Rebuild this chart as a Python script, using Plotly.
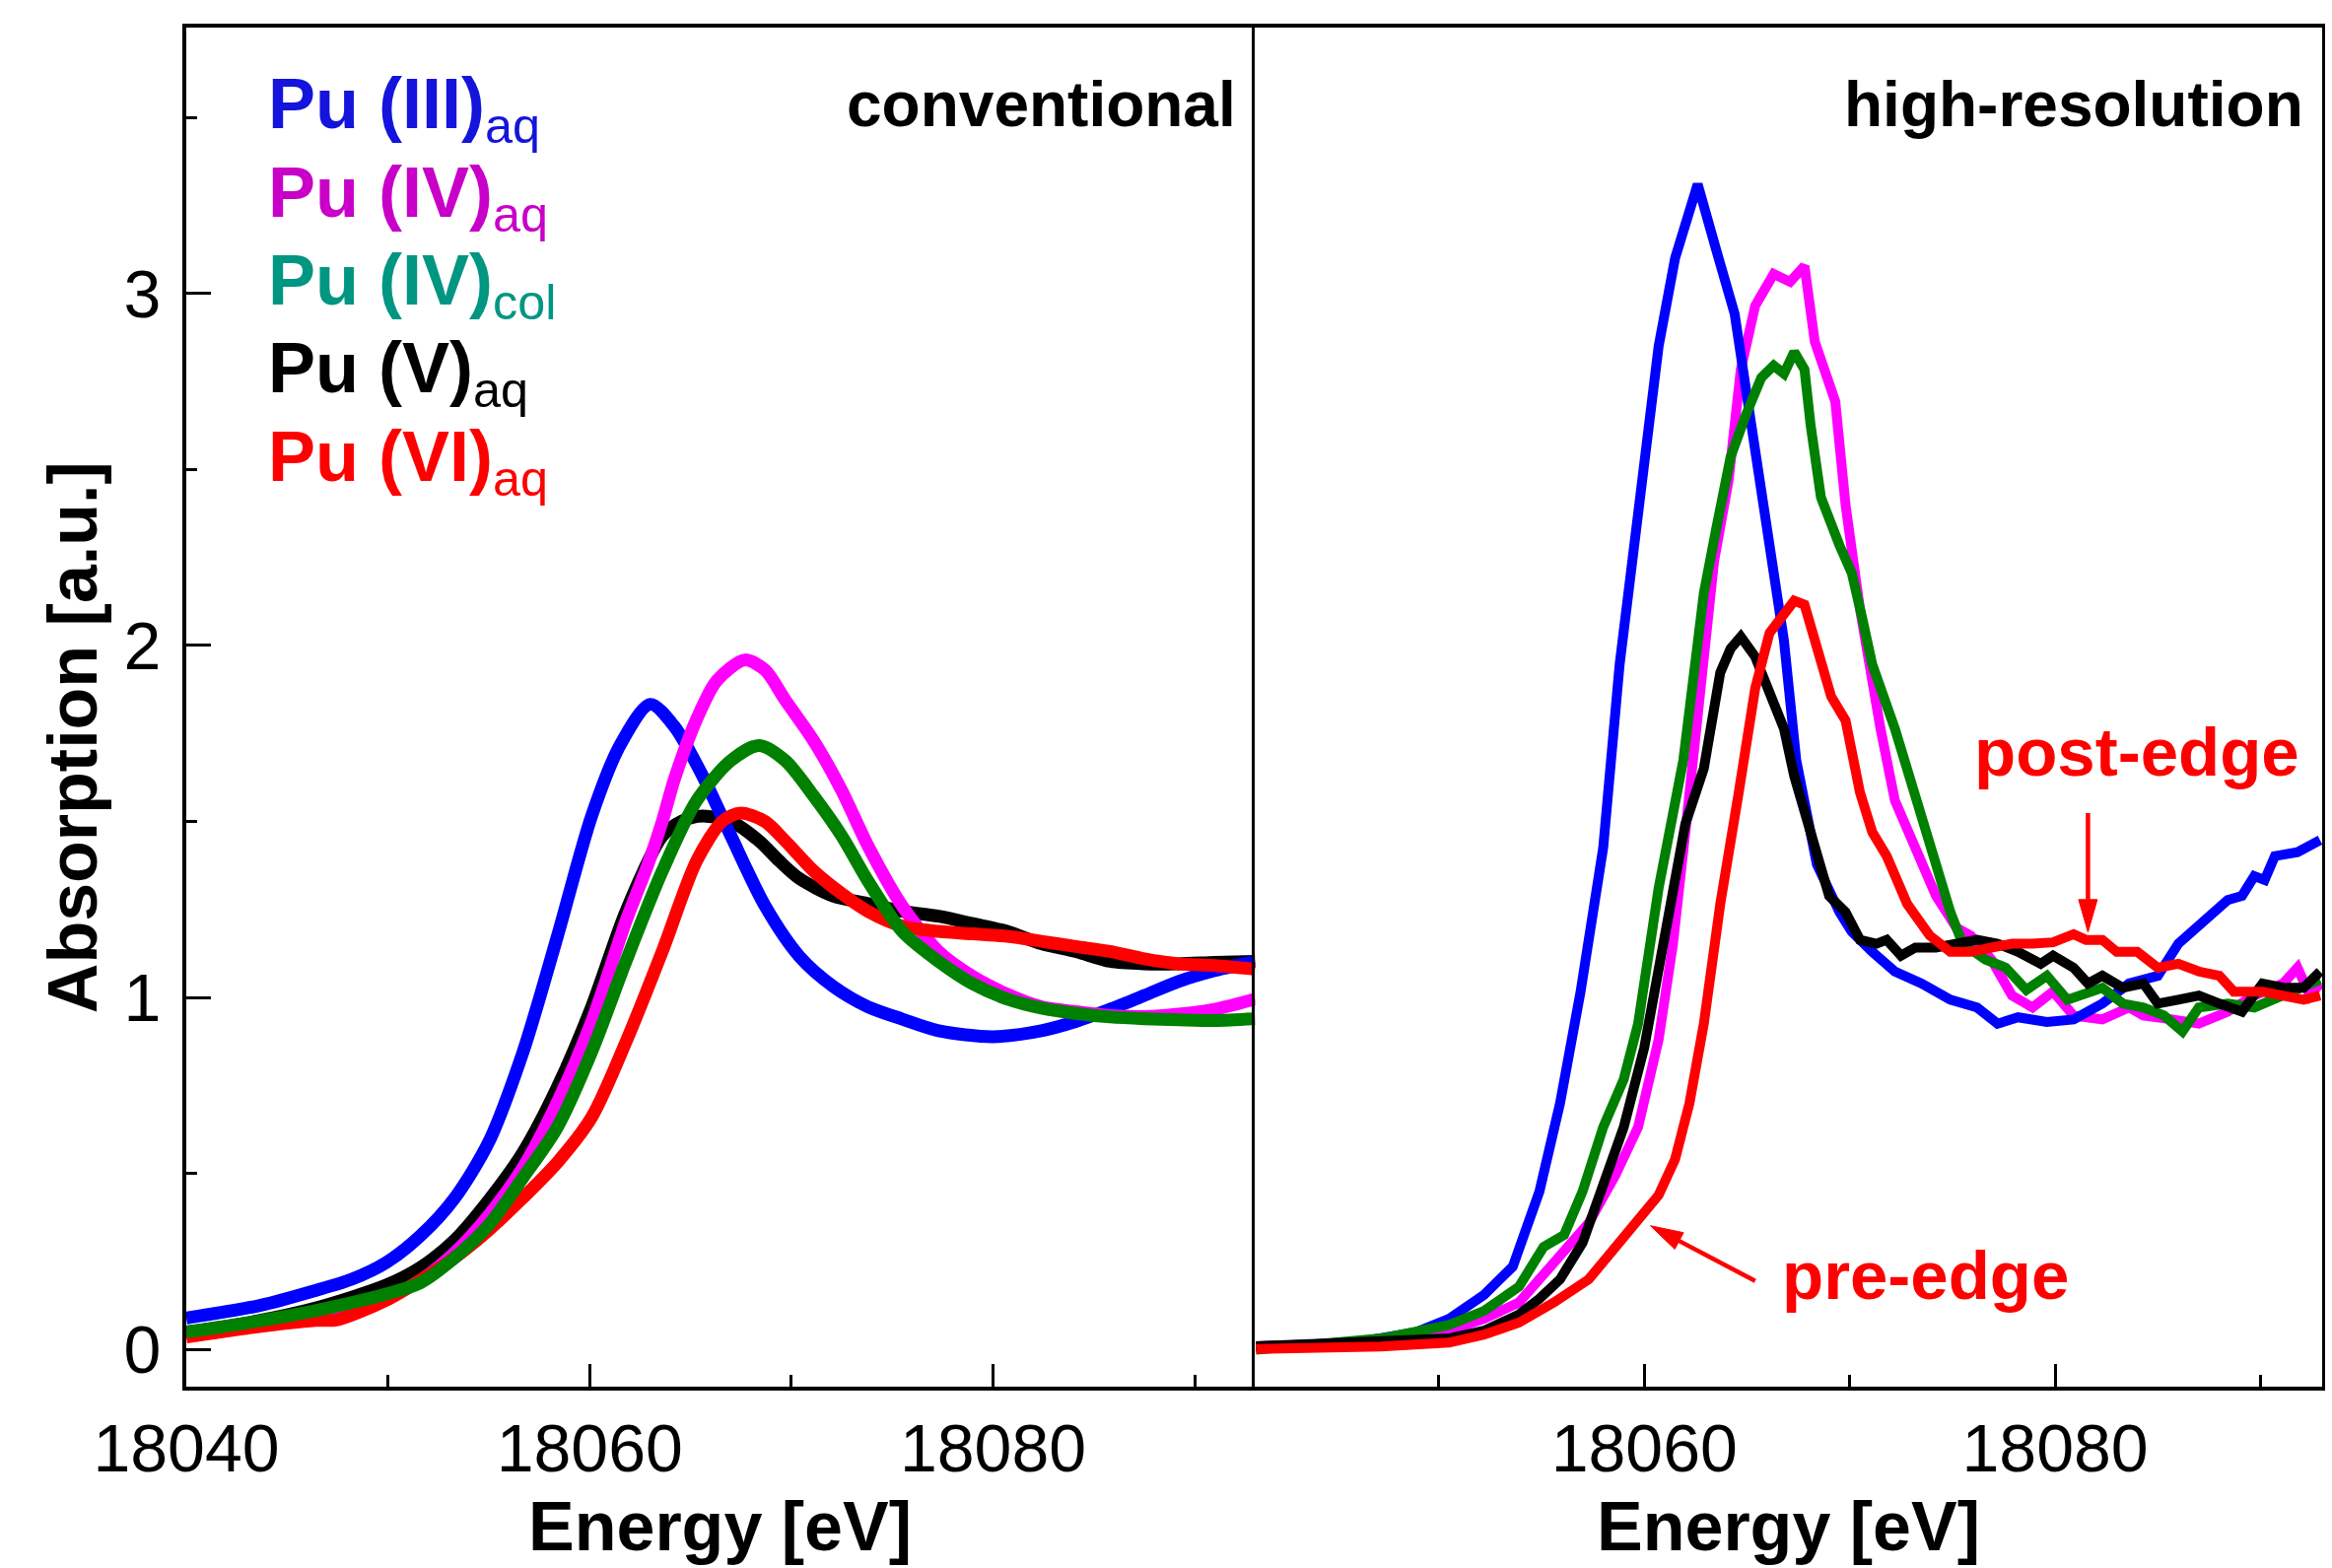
import plotly.graph_objects as go

# ---------------- data: Pu L3-edge XANES ----------------
series_names = ["Pu (III)", "Pu (IV)", "Pu (IV)", "Pu (V)", "Pu (VI)"]
series_subs = ["aq", "aq", "col", "aq", "aq"]

# conventional spectra
conv_E_III = [18040.0, 18043.7, 18046.4, 18048.2, 18049.9, 18051.6, 18053.3, 18055.0, 18056.7, 18058.4,
              18060.1, 18061.5, 18063.0, 18064.2, 18065.6, 18067.0, 18068.7, 18070.4, 18072.1, 18073.8,
              18075.5, 18077.3, 18080.0, 18082.4, 18084.1, 18085.8, 18087.5, 18089.2, 18091.0, 18093.0]
conv_A_III = [0.090, 0.126, 0.168, 0.200, 0.247, 0.323, 0.430, 0.590, 0.846, 1.174,
              1.516, 1.716, 1.833, 1.770, 1.630, 1.460, 1.260, 1.117, 1.031, 0.974,
              0.939, 0.906, 0.889, 0.906, 0.932, 0.967, 1.006, 1.046, 1.077, 1.103]

conv_E_IVaq = [18040.0, 18043.0, 18046.4, 18049.9, 18051.6, 18053.3, 18055.0, 18056.7, 18058.4, 18060.1,
               18061.8, 18062.9, 18063.6, 18064.2, 18065.3, 18066.3, 18067.7, 18068.7, 18069.7, 18071.1,
               18072.5, 18073.8, 18075.5, 18077.3, 18079.0, 18080.7, 18082.4, 18084.1, 18085.8, 18087.5,
               18089.2, 18091.0, 18093.0]
conv_A_IVaq = [0.047, 0.068, 0.093, 0.147, 0.197, 0.275, 0.382, 0.518, 0.703, 0.932,
               1.217, 1.380, 1.500, 1.620, 1.790, 1.900, 1.959, 1.930, 1.845, 1.730,
               1.588, 1.431, 1.260, 1.131, 1.060, 1.010, 0.974, 0.960, 0.949, 0.946,
               0.953, 0.967, 0.996]

conv_E_IVcol = [18040.0, 18043.0, 18046.4, 18049.9, 18051.6, 18053.3, 18055.0, 18056.7, 18058.4, 18060.1,
                18061.8, 18063.6, 18065.3, 18067.0, 18068.4, 18069.7, 18071.1, 18072.5, 18073.8, 18075.5,
                18077.3, 18079.0, 18080.7, 18082.4, 18084.1, 18085.8, 18087.5, 18089.2, 18091.0, 18093.0]
conv_A_IVcol = [0.050, 0.076, 0.111, 0.158, 0.190, 0.261, 0.354, 0.489, 0.632, 0.846,
                1.103, 1.359, 1.559, 1.673, 1.716, 1.673, 1.573, 1.459, 1.331, 1.188,
                1.103, 1.039, 0.996, 0.970, 0.955, 0.945, 0.940, 0.937, 0.935, 0.940]

conv_E_V = [18040.0, 18043.0, 18046.4, 18049.9, 18051.6, 18053.3, 18055.0, 18056.7, 18058.4, 18060.1,
            18061.8, 18063.6, 18064.6, 18065.6, 18067.0, 18068.4, 18069.4, 18070.4, 18072.1, 18073.8,
            18075.5, 18077.3, 18079.0, 18080.7, 18082.4, 18084.1, 18085.8, 18087.5, 18089.2, 18091.0,
            18093.0]
conv_A_V = [0.050, 0.076, 0.118, 0.183, 0.233, 0.311, 0.425, 0.561, 0.746, 0.974,
            1.245, 1.459, 1.502, 1.516, 1.500, 1.445, 1.388, 1.338, 1.288, 1.267,
            1.245, 1.231, 1.210, 1.188, 1.153, 1.131, 1.103, 1.096, 1.096, 1.100,
            1.103]

conv_E_VI = [18040.0, 18043.0, 18046.4, 18047.5, 18049.9, 18051.6, 18053.3, 18055.0, 18056.7, 18058.4,
             18060.1, 18061.8, 18063.6, 18065.3, 18066.6, 18067.5, 18068.7, 18069.7, 18071.1, 18072.5,
             18073.8, 18075.5, 18077.3, 18079.0, 18080.7, 18082.4, 18084.1, 18085.8, 18087.5, 18089.2,
             18091.0, 18093.0]
conv_A_VI = [0.036, 0.061, 0.083, 0.085, 0.140, 0.197, 0.261, 0.340, 0.432, 0.532,
             0.660, 0.874, 1.131, 1.388, 1.502, 1.524, 1.500, 1.445, 1.360, 1.295,
             1.245, 1.203, 1.188, 1.181, 1.174, 1.160, 1.145, 1.131, 1.110, 1.096,
             1.091, 1.081]

# high-resolution (HERFD) spectra
hr_E_III = [18041.1, 18045.5, 18048.9, 18050.5, 18052.2, 18053.6, 18054.9, 18055.9, 18056.9, 18058.0,
            18058.8, 18059.7, 18060.7, 18061.5, 18062.0, 18062.6, 18063.5, 18064.4, 18065.1, 18065.9,
            18066.8, 18067.4, 18068.4, 18069.5, 18070.1, 18071.1, 18072.2, 18073.5, 18074.9, 18076.2,
            18077.2, 18078.2, 18079.6, 18080.9, 18082.3, 18083.6, 18085.0, 18086.0, 18087.4, 18088.4,
            18089.1, 18089.7, 18090.2, 18090.7, 18091.8, 18092.9]
hr_A_III = [0.010, 0.016, 0.050, 0.088, 0.156, 0.236, 0.450, 0.700, 1.017, 1.425,
            1.946, 2.353, 2.850, 3.100, 3.200, 3.310, 3.124, 2.942, 2.670, 2.353,
            2.014, 1.674, 1.379, 1.243, 1.187, 1.130, 1.074, 1.040, 0.994, 0.972,
            0.926, 0.944, 0.931, 0.938, 0.983, 1.040, 1.062, 1.153, 1.221, 1.277,
            1.289, 1.345, 1.334, 1.402, 1.413, 1.447]

hr_E_IVaq = [18041.1, 18047.2, 18050.5, 18052.2, 18053.9, 18054.9, 18055.9, 18057.3, 18058.6, 18059.7,
             18060.7, 18061.4, 18062.0, 18062.7, 18063.4, 18064.1, 18064.7, 18065.4, 18066.3, 18067.1,
             18067.8, 18068.3, 18069.3, 18069.8, 18070.5, 18071.5, 18072.2, 18073.2, 18074.2, 18075.2,
             18075.9, 18076.9, 18077.9, 18078.9, 18079.9, 18080.9, 18082.3, 18083.6, 18084.3, 18085.7,
             18087.0, 18088.4, 18089.7, 18091.1, 18091.8, 18092.4, 18092.9]
hr_A_IVaq = [0.010, 0.020, 0.054, 0.088, 0.134, 0.200, 0.258, 0.360, 0.496, 0.632,
             0.881, 1.153, 1.470, 1.878, 2.240, 2.467, 2.784, 2.965, 3.055, 3.033,
             3.078, 2.863, 2.693, 2.399, 2.104, 1.764, 1.560, 1.425, 1.289, 1.198,
             1.176, 1.108, 1.006, 0.972, 1.017, 0.949, 0.938, 0.972, 0.949, 0.938,
             0.926, 0.960, 1.006, 1.040, 1.085, 1.006, 1.040]

hr_E_IVcol = [18041.1, 18047.2, 18050.5, 18052.2, 18053.9, 18055.1, 18056.1, 18057.0, 18058.0, 18059.0,
              18059.7, 18060.7, 18061.9, 18062.9, 18063.5, 18064.2, 18064.9, 18065.7, 18066.3, 18066.8,
              18067.3, 18067.8, 18068.1, 18068.6, 18069.5, 18070.1, 18070.6, 18071.1, 18072.2, 18073.2,
              18074.2, 18074.9, 18075.5, 18076.6, 18077.6, 18078.6, 18079.6, 18080.6, 18081.3, 18082.3,
              18083.3, 18084.3, 18085.3, 18086.2, 18087.0, 18088.4, 18089.7, 18091.1, 18092.9]
hr_A_IVcol = [0.000, 0.032, 0.070, 0.110, 0.179, 0.292, 0.326, 0.450, 0.632, 0.768,
              0.926, 1.311, 1.674, 2.149, 2.331, 2.535, 2.648, 2.761, 2.795, 2.772,
              2.834, 2.784, 2.625, 2.421, 2.285, 2.206, 2.081, 1.946, 1.764, 1.560,
              1.379, 1.243, 1.153, 1.108, 1.085, 1.022, 1.062, 0.994, 1.006, 1.028,
              0.983, 0.972, 0.949, 0.904, 0.972, 0.983, 0.972, 1.006, 1.051]

hr_E_V = [18041.1, 18047.2, 18050.5, 18052.2, 18053.9, 18054.9, 18055.9, 18057.0, 18058.0, 18059.0,
          18060.0, 18061.0, 18062.0, 18062.9, 18063.7, 18064.2, 18064.7, 18065.4, 18066.3, 18066.8,
          18067.3, 18068.1, 18069.0, 18069.8, 18070.5, 18071.3, 18071.8, 18072.5, 18073.2, 18074.2,
          18075.2, 18076.2, 18077.2, 18078.2, 18079.3, 18079.9, 18080.9, 18081.6, 18082.3, 18083.3,
          18084.3, 18085.0, 18086.0, 18087.0, 18088.0, 18089.1, 18090.1, 18091.1, 18092.1, 18092.9]
hr_A_V = [0.010, 0.025, 0.032, 0.054, 0.100, 0.145, 0.200, 0.304, 0.473, 0.632,
          0.858, 1.176, 1.493, 1.651, 1.923, 1.991, 2.025, 1.968, 1.832, 1.764,
          1.629, 1.470, 1.289, 1.243, 1.164, 1.153, 1.164, 1.119, 1.142, 1.142,
          1.153, 1.164, 1.153, 1.130, 1.096, 1.119, 1.085, 1.040, 1.062, 1.028,
          1.040, 0.983, 0.994, 1.006, 0.983, 0.960, 1.040, 1.028, 1.028, 1.074]

hr_E_VI = [18041.1, 18047.2, 18050.5, 18052.2, 18053.9, 18055.6, 18057.3, 18058.6, 18059.7, 18060.7,
           18061.5, 18062.2, 18062.9, 18063.7, 18064.6, 18065.4, 18066.1, 18066.8, 18067.3, 18067.8,
           18068.4, 18069.1, 18069.8, 18070.5, 18071.1, 18071.8, 18072.8, 18073.9, 18074.9, 18075.9,
           18076.9, 18077.9, 18078.9, 18079.9, 18080.9, 18081.5, 18082.3, 18083.0, 18084.0, 18085.0,
           18086.0, 18087.0, 18088.0, 18088.7, 18090.1, 18091.1, 18092.1, 18092.9]
hr_A_VI = [0.002, 0.009, 0.020, 0.043, 0.077, 0.134, 0.200, 0.292, 0.371, 0.439,
           0.541, 0.700, 0.926, 1.266, 1.583, 1.878, 2.036, 2.093, 2.127, 2.116,
           1.991, 1.855, 1.787, 1.583, 1.470, 1.402, 1.266, 1.176, 1.130, 1.130,
           1.142, 1.153, 1.153, 1.157, 1.180, 1.164, 1.164, 1.130, 1.130, 1.085,
           1.096, 1.074, 1.062, 1.017, 1.017, 1.006, 0.994, 1.006]

line_colors = ["#0000FF", "#FF00FF", "#008000", "#000000", "#FF0000"]
label_colors = ["#1414DC", "#C800C8", "#009682", "#000000", "#FF0000"]

x_ticks = [18040, 18060, 18080]
y_ticks = [0, 1, 2, 3]

# ---------------- layout geometry ----------------
W, H = 2366, 1591
M_L, M_R, M_T, M_B = 189, 7, 28, 184
PW, PH = W - M_L - M_R, H - M_T - M_B
SPLIT = (1275 - M_L) / PW
X1_RANGE = [18040.0, 18093.0]
X2_RANGE = [18041.06, 18093.0]
Y_RANGE = [-0.105, 3.755]
FONT = "Liberation Sans, Arial, sans-serif"

conv = [(conv_E_III, conv_A_III), (conv_E_IVaq, conv_A_IVaq), (conv_E_IVcol, conv_A_IVcol),
        (conv_E_V, conv_A_V), (conv_E_VI, conv_A_VI)]
hr = [(hr_E_III, hr_A_III), (hr_E_IVaq, hr_A_IVaq), (hr_E_IVcol, hr_A_IVcol),
      (hr_E_V, hr_A_V), (hr_E_VI, hr_A_VI)]

fig = go.Figure()

# drawing order of the curves in each panel
conv_order = [3, 0, 1, 4, 2]
hr_order = [1, 0, 2, 3, 4]

for i in conv_order:
    e, a = conv[i]
    fig.add_trace(go.Scatter(x=e, y=a, mode="lines", xaxis="x", yaxis="y",
                             line=dict(color=line_colors[i], width=13, shape="spline", smoothing=0.8),
                             showlegend=False, hoverinfo="skip"))
for i in hr_order:
    e, a = hr[i]
    fig.add_trace(go.Scatter(x=e, y=a, mode="lines", xaxis="x2", yaxis="y2",
                             line=dict(color=line_colors[i], width=10),
                             showlegend=False, hoverinfo="skip"))

common_x = dict(ticks="inside", ticklen=23, tickwidth=3, tickcolor="black",
                tickvals=x_ticks, ticktext=[str(t) for t in x_ticks],
                minor=dict(ticks="inside", ticklen=12, tickwidth=3, tickcolor="black", dtick=10, tick0=18040),
                showline=True, linewidth=4, linecolor="black", mirror=True,
                showgrid=False, zeroline=False,
                tickfont=dict(family=FONT, size=68, color="black"), ticklabelstandoff=0)

fig.update_layout(
    width=W, height=H,
    margin=dict(l=M_L, r=M_R, t=M_T, b=M_B, pad=0),
    paper_bgcolor="white", plot_bgcolor="white",
    xaxis=dict(domain=[0, SPLIT], range=X1_RANGE, anchor="y", **common_x),
    xaxis2=dict(domain=[SPLIT, 1], range=X2_RANGE, anchor="y2", **common_x),
    yaxis=dict(domain=[0, 1], range=Y_RANGE, anchor="x",
               ticks="inside", ticklen=25, tickwidth=3, tickcolor="black",
               tickvals=y_ticks, ticktext=[str(t) for t in y_ticks],
               minor=dict(ticks="inside", ticklen=11, tickwidth=3, tickcolor="black", dtick=0.5, tick0=0),
               showline=True, linewidth=4, linecolor="black", mirror=False,
               showgrid=False, zeroline=False,
               tickfont=dict(family=FONT, size=68, color="black"), ticklabelstandoff=8),
    yaxis2=dict(domain=[0, 1], range=Y_RANGE, anchor="x2", showticklabels=False, ticks="",
                showline=True, linewidth=3, linecolor="black", mirror=True,
                showgrid=False, zeroline=False),
)


def px_to_paper(px, py):
    return (px - M_L) / PW, (M_T + PH - py) / PH


def add_text(text, px, baseline, size, color, xanchor="left", sub=False, angle=0):
    """Place a text annotation by pixel position of its baseline."""
    top = baseline - 0.905 * size - 1
    bottom = baseline + (0.448 if sub else 0.212) * size + 1
    x, y = px_to_paper(px, (top + bottom) / 2)
    fig.add_annotation(text=text, x=x, y=y, xref="paper", yref="paper",
                       xanchor=xanchor, yanchor="middle", showarrow=False, textangle=angle,
                       font=dict(family=FONT, size=size, color=color))


# species labels
row_baselines = [127, 217, 306, 395, 485]
for name, sub, col, bl in zip(series_names, series_subs, label_colors, row_baselines):
    add_text(f"<b>{name}</b><sub>{sub}</sub>", 270, bl, 72, col, sub=True)

add_text("<b>conventional</b>", 1257, 128, 64, "black", xanchor="right")
add_text("<b>high-resolution</b>", 2342, 128, 64, "black", xanchor="right")
add_text("<b>post-edge</b>", 2171, 787, 69, "#FF0000", xanchor="center")
add_text("<b>pre-edge</b>", 1956, 1318, 69, "#FF0000", xanchor="center")

# axis titles
for cx in (731, 1817):
    add_text("<b>Energy [eV]</b>", cx, 1573, 70, "black", xanchor="center")
xt, yt = px_to_paper(74, 748)
fig.add_annotation(text="<b>Absorption [a.u.]</b>", x=xt, y=yt, xref="paper", yref="paper",
                   xanchor="center", yanchor="middle", showarrow=False, textangle=-90,
                   font=dict(family=FONT, size=70, color="black"))

# arrows pointing at the pre-edge and post-edge regions (high-resolution panel)
PX_PER_E = PW * (1 - SPLIT) / (X2_RANGE[1] - X2_RANGE[0])
PX_PER_A = PH / (Y_RANGE[1] - Y_RANGE[0])


def add_arrow(tail, tip, head_len=33, head_half=9.5, width=4.5, color="#FF0000"):
    dx = (tip[0] - tail[0]) * PX_PER_E
    dy = (tip[1] - tail[1]) * PX_PER_A
    ln = (dx ** 2 + dy ** 2) ** 0.5
    ux, uy = dx / ln, dy / ln
    bx = tip[0] - ux * head_len / PX_PER_E
    by = tip[1] - uy * head_len / PX_PER_A
    fig.add_shape(type="line", xref="x2", yref="y2", x0=tail[0], y0=tail[1], x1=bx, y1=by,
                  line=dict(color=color, width=width))
    px_, py_ = -uy, ux
    c1 = (bx + px_ * head_half / PX_PER_E, by + py_ * head_half / PX_PER_A)
    c2 = (bx - px_ * head_half / PX_PER_E, by - py_ * head_half / PX_PER_A)
    path = f"M {tip[0]},{tip[1]} L {c1[0]},{c1[1]} L {c2[0]},{c2[1]} Z"
    fig.add_shape(type="path", xref="x2", yref="y2", path=path,
                  fillcolor=color, line=dict(color=color, width=1))


add_arrow((18081.6, 1.524), (18081.6, 1.186))
add_arrow((18065.4, 0.195), (18060.3, 0.352))

fig.write_html("out.html")
